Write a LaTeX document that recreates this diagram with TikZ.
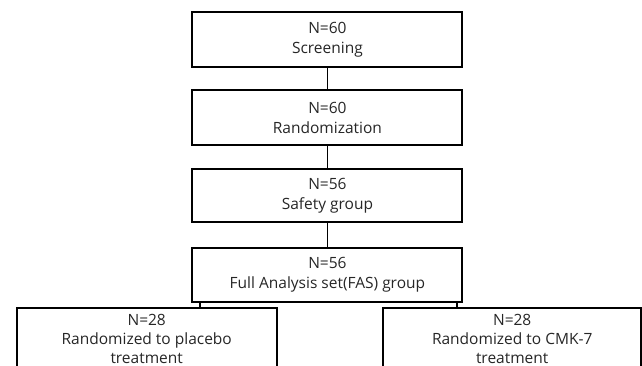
\documentclass[tikz,border=0pt]{standalone}
\usepackage{fontspec}
\setmainfont{Open Sans}
\begin{document}
\begin{tikzpicture}[x=1pt,y=-1pt,
  box/.style={draw=black, line width=2pt, minimum width=270pt, align=center,
    inner sep=0pt, font=\fontsize{15.5}{20}\selectfont, text=black!85},
  wbox/.style={box, minimum width=260pt, font=\fontsize{15.5}{19}\selectfont},
  conn/.style={draw=black, line width=1.6pt}]
\useasboundingbox (0,0) rectangle (642,365);
\clip (0,0) rectangle (642,365);
\node[box, minimum height=54.7pt] (scr) at (327.4,39.6) {N=60\\Screening};
\node[box, minimum height=55pt] (rnd) at (327.4,117.6) {N=60\\Randomization};
\node[box, minimum height=53pt] (saf) at (327.4,195.6) {N=56\\Safety group};
\node[box, minimum height=53.5pt] (fas) at (327.4,274.9) {N=56\\Full Analysis set(FAS) group};
\node[wbox, minimum height=61.4pt] (pl) at (146.7,339) {N=28\\Randomized to placebo\\treatment};
\node[wbox, minimum height=61.4pt, minimum width=258pt] (ck) at (512.2,339) {N=28\\Randomized to CMK-7\\treatment};
\draw[conn] (scr) -- (rnd);
\draw[conn] (rnd) -- (saf);
\draw[conn] (saf) -- (fas);
\draw[conn] ([xshift=8.5pt]fas.south west) -- ([xshift=8.5pt]fas.south west |- pl.north);
\draw[conn] ([xshift=-6.5pt]fas.south east) -- ([xshift=-6.5pt]fas.south east |- ck.north);
\end{tikzpicture}
\end{document}
